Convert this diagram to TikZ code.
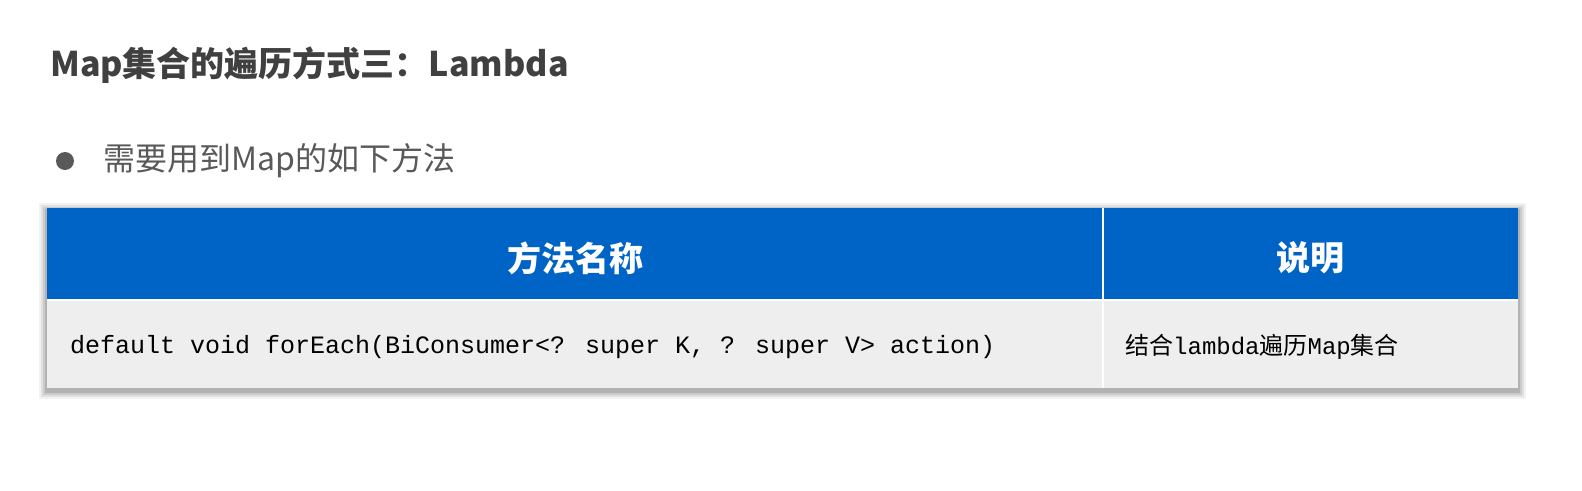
\documentclass[tikz,border=0pt]{standalone}
\usepackage{fontspec}
\setmainfont{Noto Sans CJK SC}
\newfontfamily\cjk{Noto Sans CJK SC}
\newfontfamily\codefont{Liberation Mono}
\definecolor{txtgray}{HTML}{404040}
\definecolor{bodygray}{HTML}{595959}
\definecolor{hdrblue}{HTML}{0063C6}
\definecolor{rowgray}{HTML}{EEEEEE}
\tikzset{
  title/.style={anchor=west, text=txtgray, font=\cjk\fontsize{34}{40}\selectfont\bfseries, inner sep=0},
  bodytext/.style={anchor=west, text=bodygray, font=\cjk\fontsize{32}{38}\selectfont, inner sep=0},
  hdrtext/.style={text=white, font=\cjk\fontsize{34}{40}\selectfont\bfseries, inner sep=0},
  celltext/.style={anchor=west, text=black, inner sep=0}
}
\begin{document}
\begin{tikzpicture}[x=1pt,y=-1pt]
\useasboundingbox[fill=white] (0,0) rectangle (1582,490);
% shadow
\foreach \d/\o in {8/0.05,6/0.07,4/0.09,2/0.12}{
  \fill[black,opacity=\o] (47-\d,208-\d+3) rectangle (1518+\d,388+\d+3);
}
\node[title] (t) at (50,65) {Map集合的遍历方式三：Lambda};
\fill[bodygray] (65,161) circle (9);
\node[bodytext] (b) at (103,161) {需要用到Map的如下方法};
% table
\fill[hdrblue] (47,208) rectangle (1518,300);
\fill[rowgray] (47,300) rectangle (1518,388);
\draw[white,line width=2] (1103,208) -- (1103,388);
\draw[white,line width=2] (47,300) -- (1518,300);
\node[hdrtext] (h1) at (575,258) {方法名称};
\node[hdrtext] (h2) at (1310,258) {说明};
\node[celltext, font=\codefont\fontsize{25}{30}\selectfont] (c1) at (70,347) {default void forEach(BiConsumer<? super K, ? super V> action)};
\node[celltext, font=\fontsize{24}{30}\selectfont] (c2) at (1125,347) {\cjk 结合{\codefont lambda}遍历{\codefont Map}集合};
\end{tikzpicture}
\end{document}
